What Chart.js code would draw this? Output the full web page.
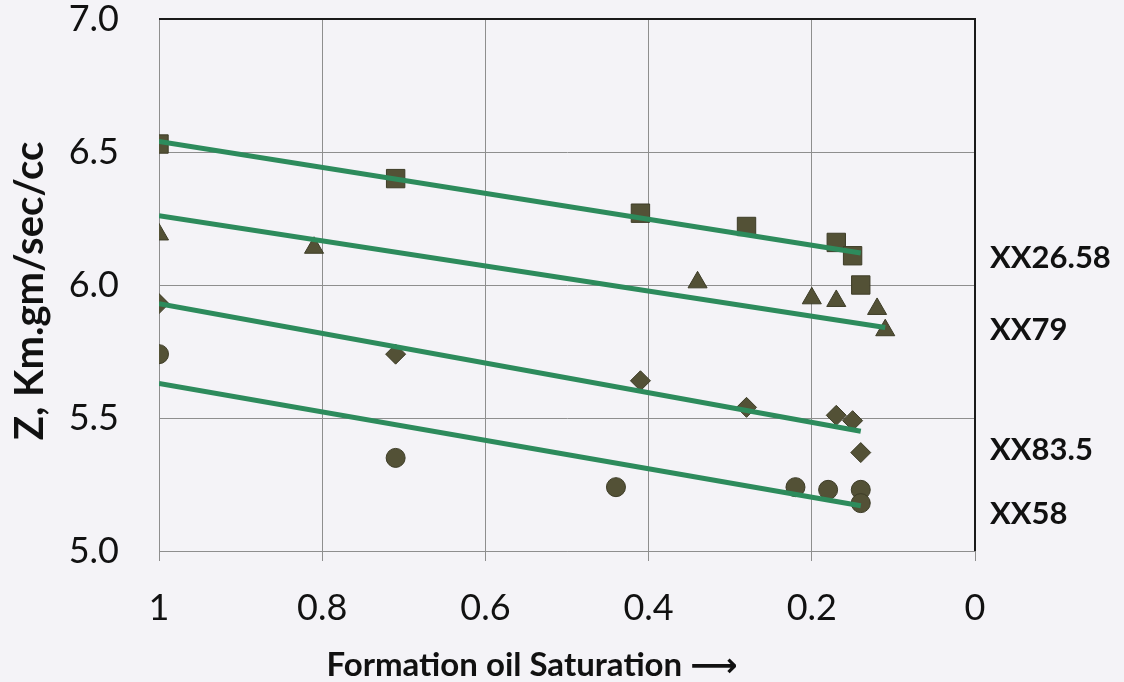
<!DOCTYPE html>
<html>
<head>
<meta charset="utf-8">
<script src="https://cdn.jsdelivr.net/npm/chart.js@4.4.1/dist/chart.umd.min.js"></script>
<style>
  html, body { margin: 0; padding: 0; background: #f4f3f7; }
  canvas { display: block; }
</style>
</head>
<body>
<canvas id="chart" width="1124" height="682"></canvas>
<script>
// Axis ticks
const satTicks = [1, 0.8, 0.6, 0.4, 0.2, 0];
const zTicks = [5.0, 5.5, 6.0, 6.5, 7.0];

// Measured impedance vs. formation oil saturation, per sample depth
const sat2658 = [1.00, 0.71, 0.41, 0.28, 0.17, 0.15, 0.14];
const z2658   = [6.53, 6.40, 6.27, 6.22, 6.16, 6.11, 6.00];

const sat79 = [1.00, 0.81, 0.34, 0.20, 0.17, 0.12, 0.11];
const z79   = [6.19, 6.14, 6.01, 5.95, 5.94, 5.91, 5.83];

const sat835 = [1.00, 0.71, 0.41, 0.28, 0.17, 0.15, 0.14];
const z835   = [5.93, 5.74, 5.64, 5.54, 5.51, 5.49, 5.37];

const sat58 = [1.00, 0.71, 0.44, 0.22, 0.18, 0.14, 0.14];
const z58   = [5.74, 5.35, 5.24, 5.24, 5.23, 5.23, 5.18];

// Linear trend lines (end points)
const trendSat2658 = [1.00, 0.14];
const trendZ2658   = [6.54, 6.12];
const trendSat79 = [1.00, 0.11];
const trendZ79   = [6.26, 5.84];
const trendSat835 = [1.00, 0.14];
const trendZ835   = [5.93, 5.45];
const trendSat58 = [1.00, 0.14];
const trendZ58   = [5.63, 5.17];

// Sample labels at the right-hand side
const sampleLabels = ['XX26.58', 'XX79', 'XX83.5', 'XX58'];
const sampleLabelZ = [6.10, 5.83, 5.38, 5.14];

const toPoints = (xs, ys) => xs.map((x, i) => ({ x: x, y: ys[i] }));

const MARK_FILL = '#535136';
const MARK_EDGE = '#3d3c27';
const TREND = '#2d8b5c';

function markers(xs, ys, style, radius) {
  return {
    type: 'scatter',
    data: toPoints(xs, ys),
    pointStyle: style,
    pointRadius: radius,
    pointHoverRadius: radius,
    backgroundColor: MARK_FILL,
    borderColor: MARK_EDGE,
    borderWidth: 1,
    order: 2
  };
}
function trend(xs, ys) {
  return {
    type: 'line',
    data: toPoints(xs, ys),
    borderColor: TREND,
    borderWidth: 5,
    pointRadius: 0,
    fill: false,
    showLine: true,
    order: 1
  };
}

const frame = {
  id: 'frame',
  beforeDraw(chart) {
    const ctx = chart.ctx;
    ctx.save();
    ctx.fillStyle = '#f4f3f7';
    ctx.fillRect(0, 0, chart.width, chart.height);
    ctx.restore();
  },
  afterDatasetsDraw(chart) {
    const { ctx, chartArea: a } = chart;
    ctx.save();
    ctx.strokeStyle = '#1a1a1a';
    ctx.lineWidth = 2;
    ctx.beginPath();
    ctx.moveTo(a.left, a.top);
    ctx.lineTo(a.right, a.top);
    ctx.lineTo(a.right, a.bottom);
    ctx.stroke();
    ctx.restore();
  },
  afterDraw(chart) {
    const { ctx, chartArea: a, scales } = chart;
    ctx.save();
    ctx.fillStyle = '#111111';
    // y-axis title
    ctx.font = 'bold 40px Lato, "DejaVu Sans", sans-serif';
    ctx.textAlign = 'center';
    ctx.textBaseline = 'middle';
    ctx.translate(30, 291);
    ctx.rotate(-Math.PI / 2);
    ctx.fillText('Z, Km.gm/sec/cc', 0, 0);
    ctx.restore();

    ctx.save();
    ctx.fillStyle = '#111111';
    ctx.font = 'bold 33px Lato, "DejaVu Sans", sans-serif';
    ctx.textAlign = 'center';
    ctx.textBaseline = 'middle';
    ctx.fillText('Formation oil Saturation \u27F6', 532, 665);

    // sample labels
    ctx.font = 'bold 31px Lato, "DejaVu Sans", sans-serif';
    ctx.textAlign = 'left';
    sampleLabels.forEach((t, i) => {
      ctx.fillText(t, a.right + 15, scales.y.getPixelForValue(sampleLabelZ[i]));
    });
    ctx.restore();
  }
};

new Chart(document.getElementById('chart'), {
  type: 'scatter',
  data: {
    datasets: [
      trend(trendSat2658, trendZ2658),
      trend(trendSat79, trendZ79),
      trend(trendSat835, trendZ835),
      trend(trendSat58, trendZ58),
      markers(sat2658, z2658, 'rect', 13),
      markers(sat79, z79, 'triangle', 11),
      markers(sat835, z835, 'rectRot', 10),
      markers(sat58, z58, 'circle', 9.5)
    ]
  },
  options: {
    responsive: false,
    animation: false,
    layout: { padding: { left: 0, top: 19, right: 149, bottom: 0 } },
    plugins: { legend: { display: false }, tooltip: { enabled: false } },
    scales: {
      x: {
        type: 'linear',
        reverse: true,
        min: 0,
        max: 1,
        afterBuildTicks(scale) { scale.ticks = satTicks.map(v => ({ value: v })); },
        afterFit(scale) {
          scale.height = 131;
          scale.paddingLeft = 0;
          scale.paddingRight = 0;
        },
        ticks: {
          padding: 26,
          color: '#111111',
          font: { family: 'Lato, "DejaVu Sans", sans-serif', size: 36 },
          callback: v => String(Number(v.toFixed(1)))
        },
        grid: { color: '#8e8e8e', lineWidth: 1, tickLength: 10, drawTicks: true },
        border: { display: true, color: '#8e8e8e', width: 1 }
      },
      y: {
        type: 'linear',
        min: 5,
        max: 7,
        afterBuildTicks(scale) { scale.ticks = zTicks.map(v => ({ value: v })); },
        afterFit(scale) {
          scale.width = 159;
          scale.paddingTop = 0;
          scale.paddingBottom = 0;
        },
        ticks: {
          padding: 40,
          color: '#111111',
          font: { family: 'Lato, "DejaVu Sans", sans-serif', size: 36 },
          callback: v => v.toFixed(1)
        },
        grid: { color: '#8e8e8e', lineWidth: 1, drawTicks: false },
        border: { display: true, color: '#8e8e8e', width: 1 }
      }
    }
  },
  plugins: [frame]
});
</script>
</body>
</html>
